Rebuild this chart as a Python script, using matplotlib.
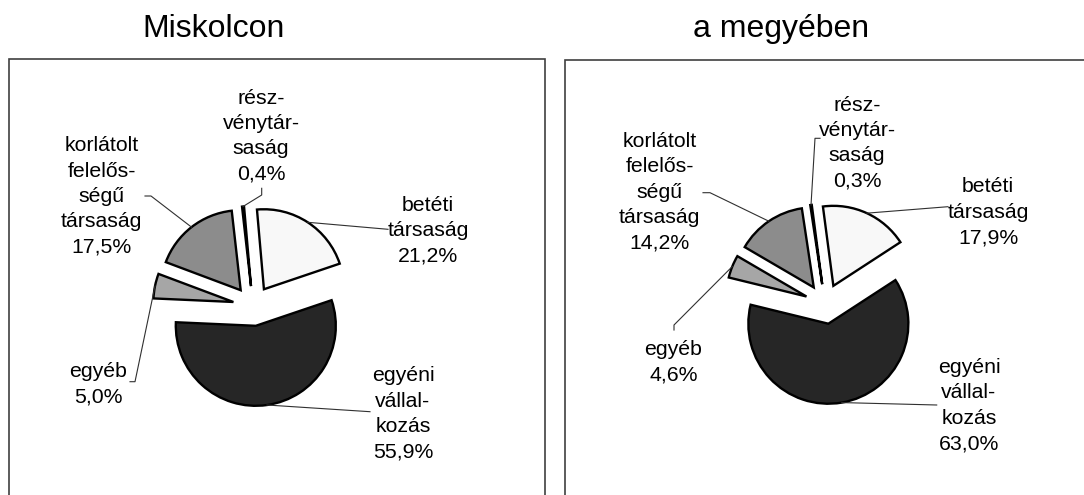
import numpy as np
import matplotlib.pyplot as plt
from matplotlib.patches import Rectangle

plt.rcParams['font.family'] = ['Liberation Sans', 'DejaVu Sans']

W, H = 1084, 495

categories = ['betéti\ntársaság', 'egyéni\nvállal-\nkozás', 'egyéb',
              'korlátolt\nfelelős-\nségű\ntársaság', 'rész-\nvénytár-\nsaság']
miskolc = [21.2, 55.9, 5.0, 17.5, 0.4]
megye = [17.9, 63.0, 4.6, 14.2, 0.3]
titles = ['Miskolcon', 'a megyében']

colors = ['#f8f8f8', '#262626', '#a6a6a6', '#8c8c8c', '#505050']

# layout in pixels (y measured from top)
R = 80
centers = [(253, 306), (825, 304)]
startangles = [95, 97.5]
title_x = [214, 781]
boxes = [(8.5, 58.5, 536), (565, 60, 530)]
label_pos = [
    [(428, 230.7), (403, 413.9), (98.5, 383.9), (101.7, 196.4), (261, 136)],
    [(988, 212.2), (969, 405.6), (673.5, 362.2), (659.5, 192.2), (857, 143)],
]
leader_pts = [
    [[(388, 229.3)], [(370, 411.7)], [(135, 381.7), (130, 381.7)],
     [(151, 196), (145, 196)], [(261.7, 195), (261.7, 188.3)]],
    [[(948, 206.7)], [(936.7, 405)], [(674, 325), (674, 330)],
     [(710, 192.7), (703, 192.7)], [(815, 138.3), (820, 138.3)]],
]

fig = plt.figure(figsize=(W / 100, H / 100), dpi=100)
ax = fig.add_axes([0, 0, 1, 1])

for k, vals in enumerate([miskolc, megye]):
    cx, cy = centers[k]
    wedges, _ = ax.pie(vals, explode=[0.25 * R] * 5, startangle=startangles[k],
                       counterclock=False, radius=R, center=(cx, H - cy),
                       colors=colors, frame=True,
                       wedgeprops=dict(edgecolor='black', linewidth=1.7))
    for i, w in enumerate(wedges):
        mid = np.deg2rad((w.theta1 + w.theta2) / 2)
        x0 = w.center[0] + w.r * np.cos(mid)
        y0 = w.center[1] + w.r * np.sin(mid)
        pts = [(x0, y0)] + [(px, H - py) for px, py in leader_pts[k][i]]
        ax.plot([p[0] for p in pts], [p[1] for p in pts], color='#303030', lw=0.8)
        lx, ly = label_pos[k][i]
        ax.text(lx, H - ly, categories[i] + '\n' + f'{vals[i]:.1f}%'.replace('.', ','),
                ha='center', va='center', fontsize=15.3, linespacing=1.42,
                multialignment='center')
    ax.text(title_x[k], H - 36.7, titles[k], ha='center', va='baseline', fontsize=23)
    bx, by, bw = boxes[k]
    ax.add_patch(Rectangle((bx, -10), bw, H - by + 10, fill=False,
                           edgecolor='#404040', lw=1.2))

ax.set_xlim(0, W)
ax.set_ylim(0, H)
ax.set_aspect('auto')
ax.axis('off')

plt.savefig('out.png', dpi=100)
